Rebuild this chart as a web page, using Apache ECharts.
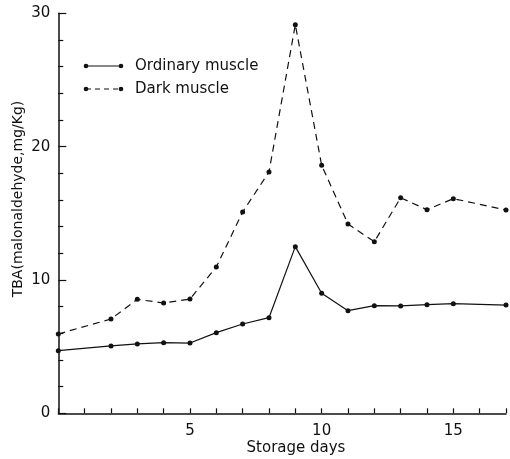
<!DOCTYPE html>
<html>
<head>
<meta charset="utf-8">
<script src="https://cdn.jsdelivr.net/npm/echarts@6/dist/echarts.min.js"></script>
<style>
html,body{margin:0;padding:0;background:#fff;}
#chart{width:510px;height:459px;}
</style>
</head>
<body>
<div id="chart"></div>
<script>
const days = [0, 2, 3, 4, 5, 6, 7, 8, 9, 10, 11, 12, 13, 14, 15, 17];
const ordinaryMuscle = [4.7, 5.05, 5.2, 5.3, 5.27, 6.05, 6.7, 7.17, 12.5, 9.0, 7.7, 8.07, 8.05, 8.15, 8.22, 8.12];
const darkMuscle = [5.95, 7.07, 8.55, 8.27, 8.57, 10.97, 15.1, 18.1, 29.15, 18.6, 14.2, 12.87, 16.17, 15.27, 16.1, 15.25];
const xLabels = [5, 10, 15];
const yLabels = [0, 10, 20, 30];
const seriesNames = ['Ordinary muscle', 'Dark muscle'];

const FONT = 'DejaVu Sans';
const INK = '#111';

const chart = echarts.init(document.getElementById('chart'), null, {renderer: 'canvas'});

function pairs(xs, ys) { return xs.map((x, i) => [x, ys[i]]); }

const legendGraphics = [];
[0, 1].forEach(i => {
  const y = i === 0 ? 66 : 89;
  legendGraphics.push({
    type: 'line', shape: {x1: 86, y1: y, x2: 121, y2: y},
    style: {stroke: INK, lineWidth: 1.2, lineDash: i === 1 ? [5, 4] : null}
  });
  legendGraphics.push({type: 'circle', shape: {cx: 86, cy: y, r: 2.3}, style: {fill: INK}});
  legendGraphics.push({type: 'circle', shape: {cx: 121, cy: y, r: 2.3}, style: {fill: INK}});
  legendGraphics.push({
    type: 'text', x: 135, y: y,
    style: {text: seriesNames[i], font: '15px "' + FONT + '"', fill: INK, textVerticalAlign: 'middle', textAlign: 'left'}
  });
});

chart.setOption({
  animation: false,
  backgroundColor: '#fff',
  grid: {left: 58.3, right: 4, top: 13.3, bottom: 45.7, containLabel: false},
  xAxis: {
    type: 'value', min: 0, max: 17, interval: 1,
    axisLine: {show: true, lineStyle: {color: INK, width: 1.5}},
    axisTick: {show: true, inside: true, length: 5, lineStyle: {color: INK, width: 1.2}},
    axisLabel: {
      margin: 10, color: INK, fontSize: 15, fontFamily: FONT,
      formatter: v => xLabels.indexOf(v) >= 0 ? String(v) : ''
    },
    splitLine: {show: false}
  },
  yAxis: {
    type: 'value', min: 0, max: 30, interval: 10,
    axisLine: {show: true, lineStyle: {color: INK, width: 1.5}},
    axisTick: {show: true, inside: true, length: 8, lineStyle: {color: INK, width: 1.2}},
    minorTick: {show: true, splitNumber: 5, length: 5, lineStyle: {color: INK, width: 1.2}},
    axisLabel: {
      margin: 8, color: INK, fontSize: 15, fontFamily: FONT,
      formatter: v => yLabels.indexOf(v) >= 0 ? String(v) : ''
    },
    splitLine: {show: false},
    minorSplitLine: {show: false}
  },
  graphic: [
    {
      type: 'text', x: 18, y: 199, rotation: Math.PI / 2,
      style: {text: 'TBA(malonaldehyde,mg/Kg)', font: '14px "' + FONT + '"', fill: INK, textAlign: 'center', textVerticalAlign: 'middle'}
    },
    {
      type: 'text', x: 296, y: 448,
      style: {text: 'Storage days', font: '15px "' + FONT + '"', fill: INK, textAlign: 'center', textVerticalAlign: 'middle'}
    }
  ].concat(legendGraphics),
  series: [
    {
      name: seriesNames[0], type: 'line', data: pairs(days, ordinaryMuscle),
      symbol: 'circle', symbolSize: 5, showAllSymbol: true,
      lineStyle: {color: INK, width: 1.2, type: 'solid'},
      itemStyle: {color: INK}
    },
    {
      name: seriesNames[1], type: 'line', data: pairs(days, darkMuscle),
      symbol: 'circle', symbolSize: 5, showAllSymbol: true,
      lineStyle: {color: INK, width: 1.2, type: [7, 5]},
      itemStyle: {color: INK}
    }
  ]
});
</script>
</body>
</html>
